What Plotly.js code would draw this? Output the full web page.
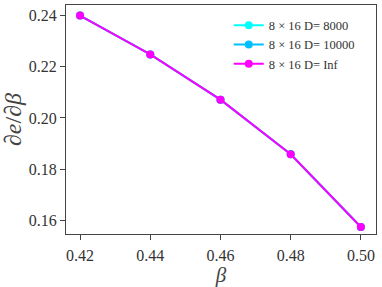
<!DOCTYPE html>
<html><head><meta charset="utf-8">
<script src="https://cdn.plot.ly/plotly-3.0.1.min.js"></script>
<style>html,body{margin:0;padding:0;background:#fff}#c{width:382px;height:287px}</style>
</head><body><div id="c"></div>
<script>
const beta = [0.42, 0.44, 0.46, 0.48, 0.50];
const dE_D8000 = [0.2398, 0.2247, 0.2071, 0.1859, 0.1576];
const dE_D10000 = [0.2398, 0.2247, 0.2071, 0.1859, 0.1576];
const dE_Inf = [0.2398, 0.2247, 0.2071, 0.1859, 0.1576];
const names = ['8 × 16 D= 8000', '8 × 16 D= 10000', '8 × 16 D= Inf'];
const colors = ['#00ffff', '#00bfff', '#ff00ff'];
const xticks = [0.42, 0.44, 0.46, 0.48, 0.50];
const xticktext = ['0.42', '0.44', '0.46', '0.48', '0.50'];
const yticks = [0.16, 0.18, 0.20, 0.22, 0.24];
const yticktext = ['0.16', '0.18', '0.20', '0.22', '0.24'];

const series = [dE_D8000, dE_D10000, dE_Inf];
const data = series.map((y, i) => ({
  x: beta, y: y, name: names[i], type: 'scatter', mode: 'lines+markers',
  line: {color: colors[i], width: 2}, marker: {color: colors[i], size: 8}
}));
const fam = '"Liberation Serif", serif';
const layout = {
  width: 382, height: 287,
  margin: {l: 66, r: 6, t: 5, b: 53},
  paper_bgcolor: '#fff', plot_bgcolor: '#fff',
  font: {family: fam, color: '#333'},
  showlegend: true,
  legend: {x: 0.525, y: 0.975, xanchor: 'left', yanchor: 'top', bgcolor: 'rgba(0,0,0,0)',
    font: {family: fam, size: 12.5, color: '#333'}, tracegroupgap: 0, itemwidth: 30},
  xaxis: {range: [0.416, 0.5043], tickvals: xticks, ticktext: xticktext,
    ticks: 'outside', ticklen: 5, tickcolor: '#444', showgrid: false, zeroline: false,
    showline: true, mirror: true, linecolor: '#444', linewidth: 1, ticklabelstandoff: 2,
    tickfont: {size: 16, family: fam, color: '#333'},
    title: {text: '<i>β</i>', font: {size: 21, family: fam, color: '#444'}, standoff: 7}},
  yaxis: {range: [0.1549, 0.2439], tickvals: yticks, ticktext: yticktext,
    ticks: 'outside', ticklen: 5, tickcolor: '#444', showgrid: false, zeroline: false,
    showline: true, mirror: true, linecolor: '#444', linewidth: 1,
    tickfont: {size: 16, family: fam, color: '#333'},
    title: {text: '∂<i>e</i>/∂<i>β</i>', font: {size: 24, family: fam, color: '#444'}, standoff: 4}}
};
Plotly.newPlot('c', data, layout, {displayModeBar: false, staticPlot: true});
</script></body></html>
